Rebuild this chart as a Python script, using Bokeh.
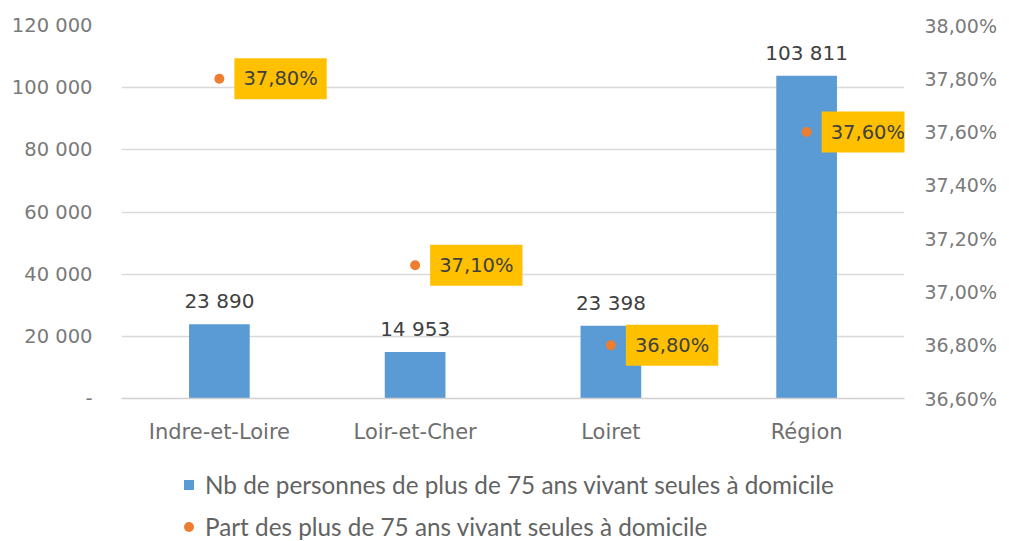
from bokeh.plotting import figure
from bokeh.layouts import column
from bokeh.models import (FactorRange, Range1d, LinearAxis, FixedTicker, CustomJSTickFormatter,
                          ColumnDataSource, Legend, LegendItem)
from bokeh.core.properties import value
from bokeh.embed import file_html
from bokeh.resources import INLINE

categories = ["Indre-et-Loire", "Loir-et-Cher", "Loiret", "Région"]
counts = [23890, 14953, 23398, 103811]
shares = [37.80, 37.10, 36.80, 37.60]
left_ticks = [0, 20000, 40000, 60000, 80000, 100000, 120000]
right_ticks = [36.6, 36.8, 37.0, 37.2, 37.4, 37.6, 37.8, 38.0]
bar_name = "Nb de personnes de plus de 75 ans vivant seules à domicile"
pt_name = "Part des plus de 75 ans vivant seules à domicile"

BLUE = "#5B9BD5"
ORANGE = "#ED7D31"
YELLOW = "#FFC000"
AXIS_FONT = "DejaVu Sans"

count_labels = [f"{v:,}".replace(",", " ") for v in counts]
share_labels = [f"{v:.2f}%".replace(".", ",") for v in shares]

src = ColumnDataSource(dict(cat=categories, n=counts, s=shares,
                            nl=count_labels, sl=share_labels))

p = figure(width=1009, height=455, x_range=FactorRange(*categories),
           y_range=Range1d(0, 120000), output_backend="svg", toolbar_location=None,
           min_border_left=121, min_border_right=105, min_border_top=25, min_border_bottom=57)
p.extra_y_ranges = {"pct": Range1d(36.6, 38.0)}
p.outline_line_color = None
p.background_fill_color = "white"
p.border_fill_color = "white"

bars = p.vbar(x="cat", top="n", width=0.31, source=src, fill_color=BLUE, line_color=None)
pts = p.scatter(x="cat", y="s", y_range_name="pct", source=src, size=10,
                fill_color=ORANGE, line_color=None)

p.text(x="cat", y="n", text="nl", source=src, text_align="center", text_baseline="middle",
       y_offset=-23, text_font=value(AXIS_FONT), text_font_size="20px", text_color="#404040")
p.text(x="cat", y="s", text="sl", source=src, y_range_name="pct", text_align="left",
       text_baseline="middle", x_offset=15, text_font=value(AXIS_FONT), text_font_size="19.5px",
       text_color="#404040", background_fill_color=YELLOW, padding=9)

# axes
ya = p.yaxis[0]
ya.ticker = FixedTicker(ticks=left_ticks)
ya.formatter = CustomJSTickFormatter(code="""
  if (tick == 0) return '-';
  return String(Math.round(tick)).replace(/\\B(?=(\\d{3})+(?!\\d))/g, ' ');
""")
ra = LinearAxis(y_range_name="pct", ticker=FixedTicker(ticks=right_ticks),
                formatter=CustomJSTickFormatter(code="return tick.toFixed(2).replace('.', ',') + '%';"))
p.add_layout(ra, "right")
xa = p.xaxis[0]
for ax in (ya, ra, xa):
    ax.major_tick_line_color = None
    ax.minor_tick_line_color = None
    ax.major_tick_out = 0
    ax.major_tick_in = 0
    ax.minor_tick_out = 0
    ax.minor_tick_in = 0
    ax.major_label_text_font = AXIS_FONT
for ax in (ya, ra):
    ax.axis_line_color = None
    ax.major_label_text_color = "#7a7a7a"
ya.major_label_text_font_size = "19.5px"
ra.major_label_text_font_size = "19px"
ya.major_label_standoff = 29
ra.major_label_standoff = 20

xa.axis_line_color = "#d0d0d0"
xa.axis_line_width = 1.5
xa.major_label_text_font_size = "21px"
xa.major_label_text_color = "#6e6e6e"
xa.major_label_standoff = 21

p.xgrid.grid_line_color = None
p.ygrid.grid_line_color = "#d9d9d9"
p.ygrid.grid_line_width = 1.5

# legend in its own strip below the chart (frames of the column are aligned)
lf = figure(width=1009, height=86, x_range=Range1d(0, 1), y_range=Range1d(0, 1),
            output_backend="svg", toolbar_location=None,
            x_axis_location=None, y_axis_location=None,
            min_border_left=0, min_border_right=0, min_border_top=0, min_border_bottom=0)
lf.outline_line_color = None
lf.grid.grid_line_color = None
# legend-only renderers, kept outside the visible range
sq = lf.scatter(x=[-5], y=[-5], marker="square", fill_color=BLUE, line_color=None)
cc = lf.scatter(x=[-5], y=[-5], marker="circle", fill_color=ORANGE, line_color=None)
legend = Legend(items=[LegendItem(label=bar_name, renderers=[sq]),
                       LegendItem(label=pt_name, renderers=[cc])],
                orientation="vertical", location=(55, 0),
                glyph_width=25, glyph_height=29, label_height=29, label_standoff=4,
                spacing=13, padding=0, margin=0,
                label_text_font="Lato", label_text_font_size="24.3px", label_text_color="#636363",
                background_fill_alpha=0, border_line_color=None)
lf.add_layout(legend, "center")

layout = column(p, lf, spacing=0)
open("out.html", "w").write(file_html(layout, INLINE))
